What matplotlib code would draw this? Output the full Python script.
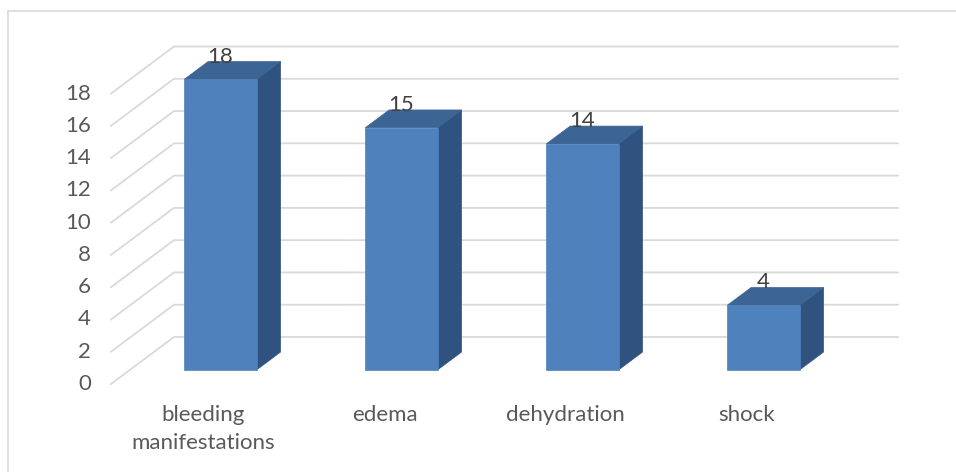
import numpy as np
import matplotlib
matplotlib.use("Agg")
import matplotlib.pyplot as plt
from matplotlib.patches import Polygon
from matplotlib.lines import Line2D
from matplotlib.transforms import IdentityTransform

categories = ["bleeding\nmanifestations", "edema", "dehydration", "shock"]
values = [18, 15, 14, 4]
yticks = [0, 2, 4, 6, 8, 10, 12, 14, 16, 18]

W, H = 956, 472
DPI = 100
plt.rcParams['font.family'] = ['Lato', 'DejaVu Sans']

fig = plt.figure(figsize=(W / DPI, H / DPI), dpi=DPI)
fig.patch.set_facecolor('white')

# front plane of the 3D box
front_left, front_right = 111, 835
front_y0, front_y18 = 384, 93.5
ax = fig.add_axes([front_left / W, (H - front_y0) / H,
                   (front_right - front_left) / W, (front_y0 - front_y18) / H])
ax.set_xlim(-0.5, len(categories) - 0.5)
ax.set_ylim(0, 18)
ax.axis('off')

DEPTH = np.array([63.0, 47.0])  # pixel offset of back wall
f_front, f_back = 0.30, 0.68
bar_w = 0.40
grid_c = '#D9D9D9'
txt_c = '#595959'
front_c, top_c, side_c = '#4F81BD', '#3C6494', '#30527E'
fs = 16

fig.canvas.draw()
ID = IdentityTransform()


def P(x, y, d):
    p = ax.transData.transform((x, y))
    return p + d * DEPTH

xmin, xmax = ax.get_xlim()
# gridlines: back wall + left side wall
for v in yticks:
    a = P(xmin, v, 0)
    b = P(xmin, v, 1)
    c = P(xmax, v, 1)
    ax.add_line(Line2D([a[0], b[0], c[0]], [a[1], b[1], c[1]], color=grid_c,
                       lw=1.3, transform=ID, clip_on=False, zorder=1))
    ax.text(a[0] - 20, a[1], str(v), transform=ID, ha='right', va='center',
            fontsize=fs, color=txt_c)

# bars
for i, v in enumerate(values):
    x0, x1 = i - bar_w / 2, i + bar_w / 2
    front = [P(x0, 0, f_front), P(x1, 0, f_front), P(x1, v, f_front), P(x0, v, f_front)]
    top = [P(x0, v, f_front), P(x1, v, f_front), P(x1, v, f_back), P(x0, v, f_back)]
    side = [P(x1, 0, f_front), P(x1, 0, f_back), P(x1, v, f_back), P(x1, v, f_front)]
    for pts, col in [(side, side_c), (top, top_c), (front, front_c)]:
        ax.add_patch(Polygon(pts, closed=True, facecolor=col, edgecolor=col,
                             lw=0.5, transform=ID, clip_on=False, zorder=3))
    lp = P(i, v, f_front) + np.array([0, (f_back - f_front) * DEPTH[1]])
    ax.text(lp[0], lp[1] - 1, str(v), transform=ID, ha='center', va='baseline',
            fontsize=fs, color='#404040', zorder=5)
    cp = P(i, 0, 0)
    ax.text(cp[0] + 2, cp[1] - 21, categories[i], transform=ID, ha='center', va='top',
            fontsize=fs, color=txt_c, linespacing=1.5)

# chart border (top and left visible)
fig.add_artist(Line2D([8 / W, 1.0], [(H - 11) / H, (H - 11) / H], color=grid_c,
                      lw=1.2, transform=fig.transFigure))
fig.add_artist(Line2D([8 / W, 8 / W], [(H - 11) / H, 0.0], color=grid_c,
                      lw=1.2, transform=fig.transFigure))

fig.savefig('out.png', dpi=DPI, facecolor='white')
